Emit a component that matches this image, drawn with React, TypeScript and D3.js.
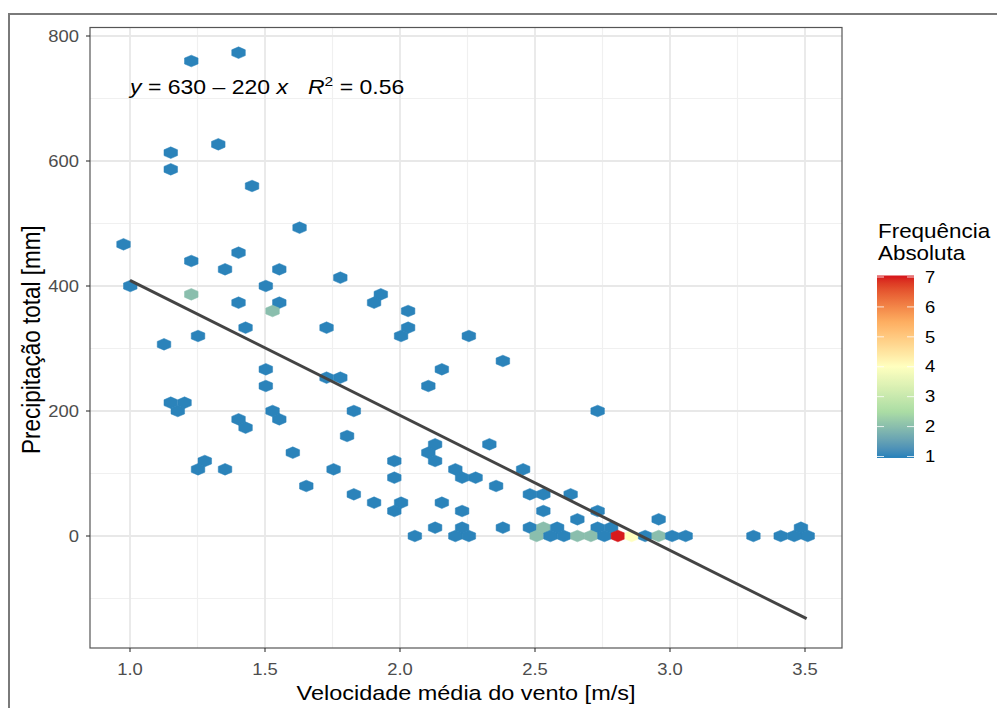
import React from 'react';
import * as d3 from 'd3';

// Hex bin centres (x = wind speed m/s, y = precipitation mm)
const hexX = [
  1.227, 1.402, 1.327, 1.151, 1.151, 1.452, 1.628, 0.976, 1.227, 1.402,
  1.352, 1.553, 1.001, 1.503, 1.227, 1.402, 1.553, 1.528, 1.779, 1.428,
  1.252, 1.728, 1.126, 1.503, 1.503, 1.728, 1.779, 1.151, 1.202, 1.177,
  1.402, 1.428, 1.528, 1.553, 1.603, 1.277, 1.252, 1.352, 1.754, 1.929,
  1.904, 2.030, 2.030, 2.004, 2.255, 2.381, 2.155, 2.105, 1.829, 1.804,
  2.130, 2.105, 2.130, 2.331, 1.979, 2.205, 2.230, 2.280, 2.456, 1.979,
  2.356, 1.653, 1.829, 1.904, 2.004, 1.979, 2.155, 2.230, 2.481, 2.531,
  2.632, 2.531, 2.732, 2.657, 2.958, 2.732,
  // row y ~ 13
  2.130, 2.230, 2.381, 2.481, 2.531, 2.582, 2.732, 2.782, 3.485,
  // row y = 0
  2.055, 2.205, 2.255, 2.506, 2.557, 2.607, 2.657, 2.707, 2.757, 2.807,
  2.858, 2.908, 2.958, 3.008, 3.058, 3.309, 3.410, 3.460, 3.510,
];
const hexY = [
  760, 773.3, 626.7, 613.3, 586.7, 560, 493.3, 466.7, 440, 453.3,
  426.7, 426.7, 400, 400, 386.7, 373.3, 373.3, 360, 413.3, 333.3,
  320, 333.3, 306.7, 266.7, 240, 253.3, 253.3, 213.3, 213.3, 200,
  186.7, 173.3, 200, 186.7, 133.3, 120, 106.7, 106.7, 106.7, 386.7,
  373.3, 360, 333.3, 320, 320, 280, 266.7, 240, 200, 160,
  146.7, 133.3, 120, 146.7, 120, 106.7, 93.3, 93.3, 106.7, 93.3,
  80, 80, 66.7, 53.3, 53.3, 40, 53.3, 40, 66.7, 66.7,
  66.7, 40, 40, 26.7, 26.7, 200,
  13.3, 13.3, 13.3, 13.3, 13.3, 13.3, 13.3, 13.3, 13.3,
  0, 0, 0, 0, 0, 0, 0, 0, 0, 0,
  0, 0, 0, 0, 0, 0, 0, 0, 0,
];
const hexCount = [
  1, 1, 1, 1, 1, 1, 1, 1, 1, 1,
  1, 1, 1, 1, 2, 1, 1, 2, 1, 1,
  1, 1, 1, 1, 1, 1, 1, 1, 1, 1,
  1, 1, 1, 1, 1, 1, 1, 1, 1, 1,
  1, 1, 1, 1, 1, 1, 1, 1, 1, 1,
  1, 1, 1, 1, 1, 1, 1, 1, 1, 1,
  1, 1, 1, 1, 1, 1, 1, 1, 1, 1,
  1, 1, 1, 1, 1, 1,
  1, 1, 1, 1, 2, 1, 1, 1, 1,
  1, 1, 1, 2, 1, 1, 2, 2, 1, 7,
  4, 1, 2, 1, 1, 1, 1, 1, 1,
];

const binWidthX = 0.0502;
const binRowY = 13.333;

const xTicks = [1.0, 1.5, 2.0, 2.5, 3.0, 3.5];
const xTickLabels = ['1.0', '1.5', '2.0', '2.5', '3.0', '3.5'];
const xMinor = [1.25, 1.75, 2.25, 2.75, 3.25];
const yTicks = [0, 200, 400, 600, 800];
const yTickLabels = ['0', '200', '400', '600', '800'];
const yMinor = [-100, 100, 300, 500, 700];

const fitIntercept = 625;
const fitSlope = -216;
const fitRangeX = [1.0, 3.506];

const legendValues = [1, 2, 3, 4, 5, 6, 7];
const paletteStops = [1, 2.5, 4, 5.5, 7];
const paletteColors = ['#2b83ba', '#abdda4', '#ffffbf', '#fdae61', '#d7191c'];

const xTitle = 'Velocidade média do vento [m/s]';
const yTitle = 'Precipitação total [mm]';
const legendTitle = ['Frequência', 'Absoluta'];

const SX = 1.15; // horizontal stretch of the original image
const FONT = "'Liberation Sans', Arial, Helvetica, sans-serif";

function T({ x, y, size, anchor = 'start', fill = '#000', rotate = false, children }: any) {
  const tr = rotate
    ? `translate(${x},${y}) rotate(-90) scale(1,${SX})`
    : `translate(${x},${y}) scale(${SX},1)`;
  return (
    <text transform={tr} fontSize={size} textAnchor={anchor} fill={fill} fontFamily={FONT}>
      {children}
    </text>
  );
}

export default function App() {
  const W = 997, H = 708;
  const pL = 90, pR = 842, pT = 27.5, pB = 648;
  const x = d3.scaleLinear().domain([1, 3.5]).range([130, 805]);
  const y = d3.scaleLinear().domain([0, 800]).range([536, 36]);
  const color = d3.scaleLinear<string>().domain(paletteStops).range(paletteColors).interpolate(d3.interpolateLab);

  const hw = x(binWidthX / 2) - x(0);
  const R = Math.abs(y(binRowY * 2 / 3) - y(0)) * 1.05;
  const hexPath = (cx: number, cy: number) => {
    const pts = [
      [cx, cy - R], [cx + hw, cy - R / 2], [cx + hw, cy + R / 2],
      [cx, cy + R], [cx - hw, cy + R / 2], [cx - hw, cy - R / 2],
    ];
    return 'M' + pts.map(p => p.join(',')).join('L') + 'Z';
  };

  const line = d3.line<number>().x(d => x(d)).y(d => y(fitIntercept + fitSlope * d));

  // legend
  const lgX = 877, lgW = 37, lgTop = 275.5, lgBot = 458;
  const lg = d3.scaleLinear().domain([1, 7]).range([456.5, 277]);

  return (
    <svg width={W} height={H} style={{ position: 'absolute', left: 0, top: 0, background: '#fff' }}>
      <rect x={0} y={0} width={W} height={H} fill="#fff" />
      <rect x={9} y={14} width={1200} height={1000} fill="none" stroke="#7a7a7a" strokeWidth={2} />
      <defs>
        <clipPath id="panel"><rect x={pL} y={pT} width={pR - pL} height={pB - pT} /></clipPath>
        <linearGradient id="lgGrad" x1="0" y1="1" x2="0" y2="0">
          {d3.range(0, 61).map(i => {
            const v = 1 + (6 * i) / 60;
            return <stop key={i} offset={`${((lg(v) - lgBot) / (lgTop - lgBot)) * 100}%`} stopColor={color(v)} />;
          })}
        </linearGradient>
      </defs>
      <rect x={pL} y={pT} width={pR - pL} height={pB - pT} fill="#fff" />
      <g clipPath="url(#panel)">
        {xMinor.map(v => <line key={'xm' + v} x1={x(v)} x2={x(v)} y1={pT} y2={pB} stroke="#f0f0f0" strokeWidth={1.2} />)}
        {yMinor.map(v => <line key={'ym' + v} x1={pL} x2={pR} y1={y(v)} y2={y(v)} stroke="#f0f0f0" strokeWidth={1.2} />)}
        {xTicks.map(v => <line key={'xg' + v} x1={x(v)} x2={x(v)} y1={pT} y2={pB} stroke="#e8e8e8" strokeWidth={1.8} />)}
        {yTicks.map(v => <line key={'yg' + v} x1={pL} x2={pR} y1={y(v)} y2={y(v)} stroke="#e8e8e8" strokeWidth={1.8} />)}
        {hexX.map((hx, i) => (
          <path key={'h' + i} d={hexPath(x(hx), y(hexY[i]))} fill={color(hexCount[i])}
            stroke={color(hexCount[i])} strokeWidth={0.5} />
        ))}
        <path d={line(fitRangeX) || ''} fill="none" stroke="#444" strokeWidth={3} />
      </g>
      <rect x={pL} y={pT} width={pR - pL} height={pB - pT} fill="none" stroke="#555" strokeWidth={1.2} />
      {xTicks.map((v, i) => (
        <g key={'xt' + v}>
          <line x1={x(v)} x2={x(v)} y1={pB} y2={pB + 4} stroke="#333" strokeWidth={1.1} />
          <T x={x(v)} y={674.5} size={16} anchor="middle" fill="#4d4d4d">{xTickLabels[i]}</T>
        </g>
      ))}
      {yTicks.map((v, i) => (
        <g key={'yt' + v}>
          <line x1={pL - 4} x2={pL} y1={y(v)} y2={y(v)} stroke="#333" strokeWidth={1.1} />
          <T x={79} y={y(v) + 5.7} size={16} anchor="end" fill="#4d4d4d">{yTickLabels[i]}</T>
        </g>
      ))}
      <T x={(pL + pR) / 2} y={700} size={20.4} anchor="middle">{xTitle}</T>
      <T x={40} y={(pT + pB) / 2 + 2} size={22.5} anchor="middle" rotate>{yTitle}</T>

      <g transform={`translate(130,93.5) scale(${SX},1)`}>
        <text fontSize={20} fontFamily={FONT} fill="#000">
          <tspan fontStyle="italic">y</tspan>
          <tspan> = 630 – 220 </tspan>
          <tspan fontStyle="italic">x</tspan>
        </text>
      </g>
      <g transform={`translate(308,93.5) scale(${SX},1)`}>
        <text fontSize={20} fontFamily={FONT} fill="#000">
          <tspan fontStyle="italic">R</tspan>
          <tspan fontSize={13.5} dy={-8}>2</tspan>
          <tspan dy={8}> = 0.56</tspan>
        </text>
      </g>

      <T x={878} y={238} size={19.5}>{legendTitle[0]}</T>
      <T x={878} y={259.5} size={19.5}>{legendTitle[1]}</T>
      <rect x={lgX} y={lgTop} width={lgW} height={lgBot - lgTop} fill="url(#lgGrad)" />
      {legendValues.map(v => (
        <g key={'lv' + v}>
          <line x1={lgX} x2={lgX + 7} y1={lg(v)} y2={lg(v)} stroke="#fff" strokeWidth={1} opacity={0.8} />
          <line x1={lgX + lgW - 7} x2={lgX + lgW} y1={lg(v)} y2={lg(v)} stroke="#fff" strokeWidth={1} opacity={0.8} />
          <T x={925} y={lg(v) + 5.7} size={16}>{String(v)}</T>
        </g>
      ))}
    </svg>
  );
}
